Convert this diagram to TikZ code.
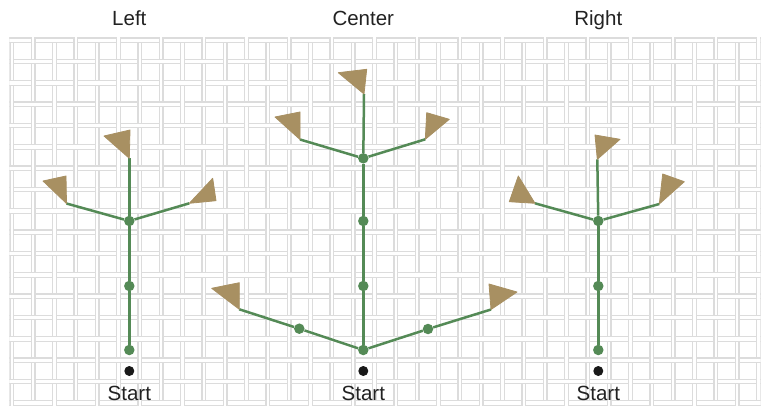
\documentclass[tikz,border=0pt]{standalone}
\usepackage{fontspec}
\setmainfont{Liberation Sans}
\definecolor{leaf}{HTML}{548A56}
\definecolor{headcol}{HTML}{A89062}
\definecolor{ink}{HTML}{222222}
\definecolor{weavecol}{HTML}{DCDCDC}
\tikzset{
  weave/.style={draw=weavecol, line width=1.2pt},
  branch/.style={draw=leaf, line width=2.5pt},
  gdot/.style={circle, fill=leaf, inner sep=0pt, minimum size=10.5pt},
  bdot/.style={circle, fill=black!90, inner sep=0pt, minimum size=10pt},
  head/.style={fill=headcol, draw=headcol, line width=0.8pt, line join=round},
  lbl/.style={font=\fontsize{20.5}{24}\selectfont, text=ink, anchor=base, inner sep=0pt}
}
\begin{document}
\begin{tikzpicture}[x=1pt,y=-1pt]
\useasboundingbox (0,0) rectangle (766,406);
\fill[white] (0,0) rectangle (766,406);
% ---- woven background ----
\begin{scope}
\clip (9.3,37.3) rectangle (760.7,406);
\foreach \k [evaluate=\k as \yy using 37.333+21.333*\k] in {0,...,17} {
  \draw[weave] (0,\yy+0.6) -- (766,\yy+0.6);
  \draw[weave] (0,\yy+5.2) -- (766,\yy+5.2);
}
\foreach \j [evaluate=\j as \xx using 9.333+21.333*\j] in {0,...,35} {
  \draw[weave] (\xx+0.6,0) -- (\xx+0.6,406);
  \draw[weave] (\xx+4.4,0) -- (\xx+4.4,406);
}
\foreach \j [evaluate=\j as \xx using 9.333+21.333*\j] in {0,...,35} {
  \foreach \k [evaluate=\k as \yy using 37.333+21.333*\k] in {0,...,17} {
    \ifodd\numexpr\j+\k\relax
      \fill[white] (\xx+1.2,\yy-1) rectangle (\xx+3.8,\yy+6.8);
    \else
      \fill[white] (\xx-1,\yy+1.2) rectangle (\xx+6,\yy+4.6);
    \fi
  }
}
\end{scope}
% ---- labels ----
\node[lbl] (tL) at (129.3,26) {Left};
\node[lbl] (tC) at (363.3,26) {Center};
\node[lbl] (tR) at (598.3,26) {Right};
\node[lbl] (sL) at (129.3,400) {Start};
\node[lbl] (sC) at (363.3,400) {Start};
\node[lbl] (sR) at (598.3,400) {Start};
% ---- Left tree ----
\node[bdot] (Lb) at (129.3,371) {};
\node[gdot] (L1) at (129.3,350) {};
\node[gdot] (L2) at (129.3,286) {};
\node[gdot] (L3) at (129.3,221) {};
\coordinate (Lt) at (129.3,158.3);
\coordinate (Ll) at (66.5,203.5);
\coordinate (Lr) at (189.3,203.3);
\draw[branch] (L1) -- (L2);
\draw[branch] (L2) -- (L3);
\draw[branch] (L3) -- (Lt);
\draw[branch] (L3) -- (Ll);
\draw[branch] (L3) -- (Lr);
\filldraw[head] (Lt) -- (104,136) -- (130,130) -- cycle;
\filldraw[head] (Ll) -- (43,181) -- (66,176) -- cycle;
\filldraw[head] (Lr) -- (212.7,178.3) -- (216,200.7) -- cycle;
% ---- Center tree ----
\node[bdot] (Cb) at (363.3,371) {};
\node[gdot] (C1) at (363.3,350) {};
\node[gdot] (C2) at (363.3,286) {};
\node[gdot] (C3) at (363.3,221) {};
\node[gdot] (C4) at (363.3,158.3) {};
\node[gdot] (Cm1) at (299.3,328.7) {};
\node[gdot] (Cm2) at (428,329) {};
\coordinate (Ct) at (364,94);
\coordinate (Cul) at (300,139.5);
\coordinate (Cur) at (425.3,139.3);
\coordinate (Cll) at (239.3,309.3);
\coordinate (Clr) at (491,309.5);
\draw[branch] (C1) -- (C2);
\draw[branch] (C2) -- (C3);
\draw[branch] (C3) -- (C4);
\draw[branch] (C4) -- (Ct);
\draw[branch] (C4) -- (Cul);
\draw[branch] (C4) -- (Cur);
\draw[branch] (C1) -- (Cm1);
\draw[branch] (Cm1) -- (Cll);
\draw[branch] (C1) -- (Cm2);
\draw[branch] (Cm2) -- (Clr);
\filldraw[head] (Ct) -- (338.3,72.7) -- (366.7,69.3) -- cycle;
\filldraw[head] (Cul) -- (275,117) -- (300,112) -- cycle;
\filldraw[head] (Cur) -- (426.7,112.7) -- (449.3,119.3) -- cycle;
\filldraw[head] (Cll) -- (211.7,288.3) -- (239.3,282.7) -- cycle;
\filldraw[head] (Clr) -- (489,284) -- (517,292) -- cycle;
% ---- Right tree ----
\node[bdot] (Rb) at (598.3,371) {};
\node[gdot] (R1) at (598.3,350) {};
\node[gdot] (R2) at (598.3,286) {};
\node[gdot] (R3) at (598.3,221) {};
\coordinate (Rt) at (597.3,159.3);
\coordinate (Rl) at (535,203.3);
\coordinate (Rr) at (659.3,204);
\draw[branch] (R1) -- (R2);
\draw[branch] (R2) -- (R3);
\draw[branch] (R3) -- (Rt);
\draw[branch] (R3) -- (Rl);
\draw[branch] (R3) -- (Rr);
\filldraw[head] (Rt) -- (595,135) -- (620,139.3) -- cycle;
\filldraw[head] (Rl) -- (509.3,201.7) -- (518.3,176) -- cycle;
\filldraw[head] (Rr) -- (662.7,174) -- (684.3,181.7) -- cycle;
\end{tikzpicture}
\end{document}
